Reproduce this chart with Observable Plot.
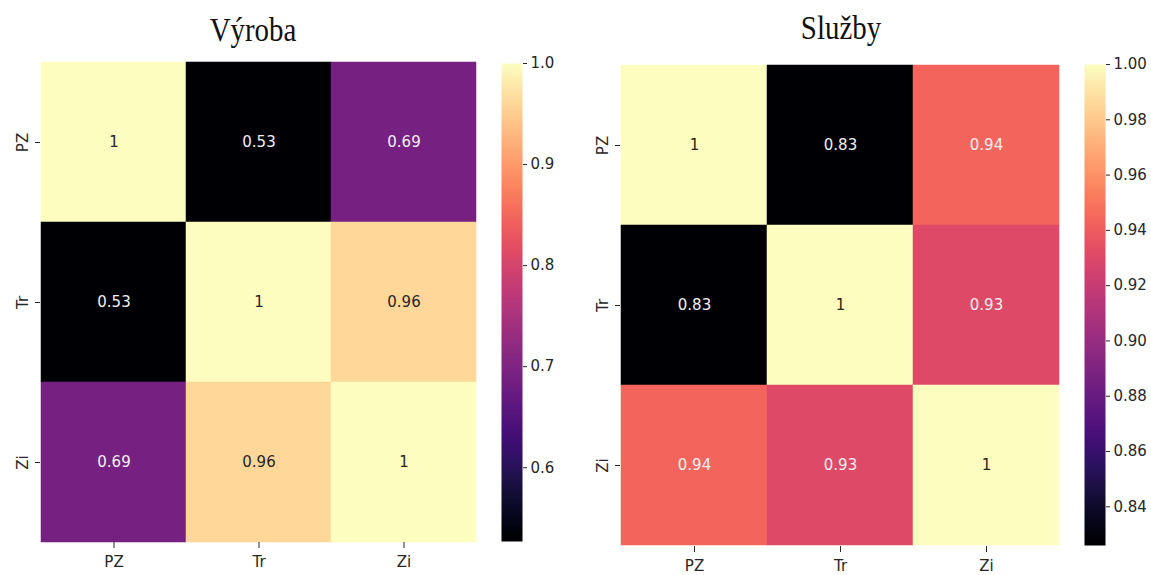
<!DOCTYPE html>
<html>
<head>
<meta charset="utf-8">
<script src="https://cdn.jsdelivr.net/npm/d3@7"></script>
<script src="https://cdn.jsdelivr.net/npm/@observablehq/plot@0.6"></script>
<style>
  html, body { margin: 0; padding: 0; background: #fff; }
  #root { position: relative; width: 1151px; height: 575px; overflow: hidden; }
  .abs { position: absolute; top: 0; }
  .title { position: absolute; font-family: "Liberation Serif", "Times New Roman", serif; font-size: 34px; color: #111; text-align: center; width: 300px; transform: scaleX(0.85); line-height: 1; }
</style>
</head>
<body>
<div id="root"></div>
<script>
// ---- data ----
const categories = ["PZ", "Tr", "Zi"];
const vyrobaTitle = "Výroba";
const sluzbyTitle = "Služby";
const vyrobaPZ = [1, 0.527, 0.69];
const vyrobaTr = [0.527, 1, 0.96];
const vyrobaZi = [0.69, 0.96, 1];
const sluzbyPZ = [1, 0.826, 0.944];
const sluzbyTr = [0.826, 1, 0.93];
const sluzbyZi = [0.944, 0.93, 1];
const vyrobaTicks = [0.6, 0.7, 0.8, 0.9, 1.0];
const sluzbyTicks = [0.84, 0.86, 0.88, 0.90, 0.92, 0.94, 0.96, 0.98, 1.00];

const root = document.getElementById("root");
const font = {fontFamily: "DejaVu Sans, sans-serif", fontSize: "15px", color: "#262626", background: "transparent", overflow: "visible"};
const fmt = (v) => (v === 1 ? "1" : v.toFixed(2));

function toTable(rows) {
  const out = [];
  rows.forEach((vals, i) => vals.forEach((v, j) => out.push({row: categories[i], col: categories[j], value: v})));
  return out;
}

function luminance(c) {
  const rgb = d3.rgb(c);
  const f = (u) => { u /= 255; return u <= 0.03928 ? u / 12.92 : Math.pow((u + 0.055) / 1.055, 2.4); };
  return 0.2126 * f(rgb.r) + 0.7152 * f(rgb.g) + 0.0722 * f(rgb.b);
}

function heatmap(rows, m) {
  const data = toTable(rows);
  const lo = d3.min(data, d => d.value), hi = d3.max(data, d => d.value);
  const cs = d3.scaleSequential(d3.interpolateMagma).domain([lo, hi]);
  const svg = Plot.plot({
    width: m.width, height: 575,
    marginLeft: m.left, marginRight: m.right, marginTop: m.top, marginBottom: m.bottom,
    style: font,
    x: {domain: categories, padding: 0, label: null},
    y: {domain: categories, padding: 0, label: null},
    color: {type: "linear", scheme: "magma", domain: [lo, hi]},
    marks: [
      Plot.cell(data, {x: "col", y: "row", fill: "value", inset: 0, stroke: "value", strokeWidth: 0.5}),
      Plot.text(data, {x: "col", y: "row", text: d => fmt(d.value), fontSize: 15,
        fill: d => luminance(cs(d.value)) > 0.408 ? "#262626" : "#f0f0f0"}),
      Plot.axisX({tickSize: 6, tickPadding: 8, label: null, fontSize: 15}),
      Plot.axisY({tickSize: 5, tickPadding: 8, tickRotate: -90, label: null, fontSize: 15})
    ]
  });
  svg.classList.add("abs");
  svg.style.left = m.x + "px";
  root.appendChild(svg);
  return [lo, hi];
}

function colorbar(domain, ticks, format, m) {
  const [lo, hi] = domain;
  const svg = Plot.plot({
    width: m.width, height: 575,
    marginLeft: m.left, marginRight: m.right, marginTop: m.top, marginBottom: m.bottom,
    style: font,
    x: {domain: [0, 1], axis: null},
    y: {domain: [lo, hi], label: null},
    color: {type: "linear", scheme: "magma", domain: [lo, hi]},
    marks: [
      Plot.raster({x1: 0, x2: 1, y1: lo, y2: hi, width: 1, height: 256, fill: (x, y) => y}),
      Plot.axisY({anchor: "right", ticks: ticks, tickFormat: format, tickSize: 4, tickPadding: 4, label: null, fontSize: 15})
    ]
  });
  svg.classList.add("abs");
  svg.style.left = m.x + "px";
  root.appendChild(svg);
}

function title(text, cx, top) {
  const d = document.createElement("div");
  d.className = "title";
  d.textContent = text;
  d.style.left = (cx - 150) + "px";
  d.style.top = top + "px";
  root.appendChild(d);
}

const d1 = heatmap([vyrobaPZ, vyrobaTr, vyrobaZi], {x: 0, width: 490, left: 40, right: 13, top: 62, bottom: 33});
colorbar(d1, vyrobaTicks, d3.format(".1f"), {x: 490, width: 70, left: 11, right: 38, top: 63, bottom: 34});
const d2 = heatmap([sluzbyPZ, sluzbyTr, sluzbyZi], {x: 570, width: 500, left: 50, right: 10, top: 64, bottom: 29});
colorbar(d2, sluzbyTicks, d3.format(".2f"), {x: 1072, width: 79, left: 12, right: 46, top: 64, bottom: 30});

title(vyrobaTitle, 253, 13);
title(sluzbyTitle, 841, 11);
</script>
</body>
</html>
